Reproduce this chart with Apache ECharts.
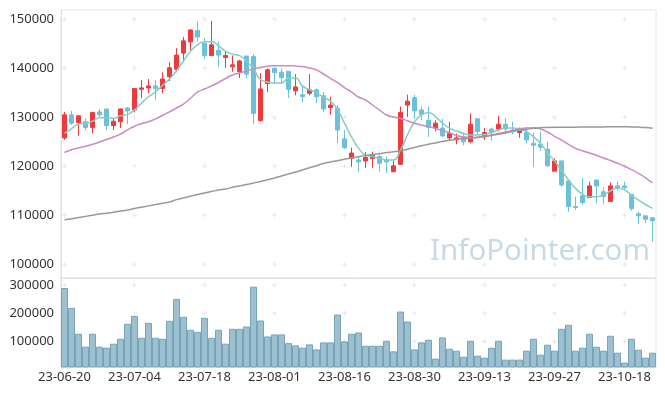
<!DOCTYPE html>
<html><head><meta charset="utf-8">
<script src="https://cdn.jsdelivr.net/npm/echarts@6/dist/echarts.min.js"></script>
<style>html,body{margin:0;padding:0;background:#fff}#c{width:665px;height:396px}</style>
</head><body><div id="c"></div>
<script>
const dates = ['23-06-20','23-06-21','23-06-22','23-06-23','23-06-26','23-06-27','23-06-28','23-06-29','23-06-30','23-07-03',
'23-07-04','23-07-05','23-07-06','23-07-07','23-07-10','23-07-11','23-07-12','23-07-13','23-07-14','23-07-17',
'23-07-18','23-07-19','23-07-20','23-07-21','23-07-24','23-07-25','23-07-26','23-07-27','23-07-28','23-07-31',
'23-08-01','23-08-02','23-08-03','23-08-04','23-08-07','23-08-08','23-08-09','23-08-10','23-08-11','23-08-14',
'23-08-16','23-08-17','23-08-18','23-08-21','23-08-22','23-08-23','23-08-24','23-08-25','23-08-28','23-08-29',
'23-08-30','23-08-31','23-09-01','23-09-04','23-09-05','23-09-06','23-09-07','23-09-08','23-09-11','23-09-12',
'23-09-13','23-09-14','23-09-15','23-09-18','23-09-19','23-09-20','23-09-21','23-09-22','23-09-25','23-09-26',
'23-09-27','23-10-04','23-10-05','23-10-06','23-10-10','23-10-11','23-10-12','23-10-13','23-10-16','23-10-17',
'23-10-18','23-10-19','23-10-20','23-10-23','23-10-24'];

const openP = [125800,130500,128900,129100,127900,131100,131700,128300,129100,131900,
131500,135700,136000,136400,135900,138300,139800,143100,145400,147700,
145100,142600,143700,142200,140300,139300,142500,142400,129300,136900,
140000,139200,139400,135400,134600,134900,135600,134400,132000,131800,
125600,121600,121300,121100,121600,122000,121300,118900,120400,132500,
134000,131500,129400,127800,127800,125800,125400,126000,125000,129700,
126000,127600,127600,128600,127400,126900,126900,124700,124500,123500,
119000,121100,117000,111800,114000,113600,117200,114800,112800,116000,
116000,114300,110300,109900,109500];

const closeP = [130500,128800,130300,127900,131000,130500,128300,129200,131700,131300,
135900,136000,136400,135900,137800,140100,142700,145600,147800,146400,
142600,144800,142700,142600,140700,141500,138800,130800,135800,139700,
139100,138100,135700,136200,134200,135600,134200,131700,132500,127400,
123800,122700,120900,121800,122200,120600,120900,120100,131000,133300,
131300,130600,127900,128800,126200,126700,125800,125000,128600,127100,
126900,126900,128600,127600,127200,127400,125400,124300,123900,120100,
121100,116200,111800,111600,112600,116000,116000,113800,116000,115500,
115600,111400,109900,109200,108900];

const lowP = [125400,128400,126200,127400,126700,130100,127400,127400,127800,128600,
131000,133900,134900,133500,134900,137400,139200,141300,143700,145400,
141900,142500,140300,140100,139300,138000,138000,128600,129100,135200,
136900,136900,133900,134500,133100,134500,132900,131100,130500,124700,
123500,119900,118900,119700,119700,118900,118600,118800,120300,130100,
129700,129400,126000,127100,126000,125200,124500,124300,124700,126400,
125400,125200,127100,126700,126500,125800,124700,119900,123100,119900,
119000,115800,110700,111100,112100,113600,112400,112300,112800,115000,
115200,110900,108200,108400,104600];

const highP = [131100,131300,130500,129800,131100,131700,131700,129800,131800,132100,
136000,137600,137800,137600,139200,141200,144100,146400,148000,149500,
146200,149700,145400,143500,142600,141700,142500,142900,139000,140000,
140100,140000,139400,138800,136200,138800,135900,135200,134200,132500,
127400,123800,122000,122900,123000,122400,122000,121100,132200,134600,
134600,132200,132200,129400,129700,129100,126700,126900,130800,129700,
127800,127900,130300,129800,129100,127900,127800,126900,127100,125000,
121600,121100,117400,113800,117600,116900,117200,115700,116700,116900,
116900,114300,110700,109900,109500];

const ma5 = [126700,127700,128600,128800,129200,129900,129900,129800,130300,130600,
131500,132900,134200,135200,136500,137800,139500,141500,143500,144800,
145400,145400,144600,143500,142900,142600,141500,139900,137700,137200,
137000,137000,138000,138000,136400,135600,135000,134100,133300,131600,
128800,126000,123700,122300,122000,121600,121300,121300,123300,126400,
129100,130500,131000,130100,128800,127800,127200,126700,126400,126400,
126500,126900,127400,127800,127800,127600,127100,126000,124700,122700,
121100,119200,117200,115500,114300,113800,113800,114100,115000,115500,
115200,114100,113100,112200,111400];

const ma20 = [122820,123390,123740,124080,124490,124960,125470,125980,126590,127450,
128180,128690,129100,129690,130370,131120,131900,132710,133880,135120,
135780,136390,137100,137920,138630,139040,139450,139860,140160,140430,
140510,140530,140530,140470,140350,140060,139650,138840,137960,137100,
136080,135160,134140,133530,132510,131490,130470,130060,129760,129290,
128780,128390,128120,127720,127270,126840,126290,125980,125880,125920,
126120,126390,126690,127000,127310,127650,127820,127860,127610,127000,
126120,125370,124490,123670,123180,122720,122250,121690,121180,120610,
120000,119310,118570,117650,116590];

const ma60 = [109080,109290,109530,109780,110020,110250,110430,110630,110860,111100,
111390,111650,111920,112180,112450,112720,113200,113530,113880,114230,
114550,114860,115160,115350,115720,115980,116270,116590,116880,117250,
117610,118020,118430,118840,119250,119690,120120,120550,120880,121140,
121430,121690,121960,122210,122390,122590,122800,122960,123180,123470,
123840,124180,124490,124760,125060,125310,125530,125670,125780,125900,
126120,126290,126550,126800,127080,127330,127530,127760,127860,127940,
127960,127960,127980,127990,128000,128010,128020,128040,128060,128080,
128080,128040,128000,127920,127780];

const volume = [289300,218800,127100,81200,127100,81200,77700,91800,109400,162300,
190500,113000,165900,113000,109400,172900,250500,187000,141200,134100,
183500,113000,141200,91800,144700,144700,152900,294000,174100,117600,
124700,124700,94100,85900,77700,89400,71800,96500,96500,195200,
100000,127100,131700,84700,84700,84700,102400,64700,205800,170600,
71800,96500,105900,38900,114100,74100,67100,45900,102400,49500,
42400,77700,102400,35400,35400,35400,67100,109400,53000,88300,
67100,144700,158800,67100,77700,127100,81200,67100,120000,60000,
24800,109400,70600,42400,60000];

const priceTicks = [100000,110000,120000,130000,140000,150000];
const volumeTicks = [100000,200000,300000];

const candleData = dates.map((d, i) => [openP[i], closeP[i], lowP[i], highP[i]]);
const markCats = dates.filter((d, i) => i % 10 === 0);
const pricePlus = [];
markCats.forEach(c => priceTicks.forEach(v => pricePlus.push([c, v])));
const volPlus = [];
markCats.forEach(c => volumeTicks.forEach(v => volPlus.push([c, v])));

const RED = '#ef3a3d', BLUE = '#6bc1da';
const plusPath = 'path://M4,0H6V4H10V6H6V10H4V6H0V4H4Z';
const labelStyle = { color: '#333', fontSize: 13, fontFamily: 'Noto Sans' };

const chart = echarts.init(document.getElementById('c'), null, { renderer: 'canvas' });
chart.setOption({
  animation: false,
  backgroundColor: '#fff',
  grid: [
    { left: 61, right: 9, top: 10, height: 268, show: true, borderColor: '#e6e6e6', borderWidth: 1 },
    { left: 61, right: 9, top: 278, height: 89, show: true, borderColor: '#e6e6e6', borderWidth: 1 }
  ],
  xAxis: [
    { type: 'category', gridIndex: 0, data: dates, boundaryGap: true,
      axisLine: { show: true, lineStyle: { color: '#e0e0e0' } }, axisTick: { show: false },
      axisLabel: { show: false }, splitLine: { show: false } },
    { type: 'category', gridIndex: 1, data: dates, boundaryGap: true,
      axisLine: { show: false }, axisTick: { show: false },
      axisLabel: Object.assign({ interval: 9, margin: 4 }, labelStyle), splitLine: { show: false } }
  ],
  yAxis: [
    { type: 'value', gridIndex: 0, min: 97200, max: 151900, splitNumber: 5, scale: true,
      axisLine: { show: true, lineStyle: { color: '#e0e0e0' } }, axisTick: { show: false },
      splitLine: { show: false },
      axisLabel: Object.assign({ showMinLabel: false, showMaxLabel: false, margin: 7, formatter: v => String(v) }, labelStyle) },
    { type: 'value', gridIndex: 1, min: 9300, max: 324700, splitNumber: 3,
      axisLine: { show: true, lineStyle: { color: '#e0e0e0' } }, axisTick: { show: false },
      splitLine: { show: false },
      axisLabel: Object.assign({ showMinLabel: false, showMaxLabel: false, margin: 7, formatter: v => String(v) }, labelStyle) }
  ],
  graphic: [
    { type: 'text', left: 430, top: 237, z: 0, silent: true,
      style: { text: 'InfoPointer.com', font: '29.5px "Noto Sans"', fill: '#c8dae5' } }
  ],
  series: [
    { type: 'scatter', xAxisIndex: 0, yAxisIndex: 0, data: pricePlus, symbol: plusPath, symbolSize: 5,
      itemStyle: { color: '#e2e2e2' }, silent: true, z: 1 },
    { type: 'scatter', xAxisIndex: 1, yAxisIndex: 1, data: volPlus, symbol: plusPath, symbolSize: 5,
      itemStyle: { color: '#e2e2e2' }, silent: true, z: 1 },
    { type: 'candlestick', xAxisIndex: 0, yAxisIndex: 0, data: candleData, barWidth: 5, z: 3,
      itemStyle: { color: RED, color0: BLUE, borderColor: RED, borderColor0: BLUE, borderWidth: 1 } },
    { type: 'line', xAxisIndex: 0, yAxisIndex: 0, data: ma5, smooth: true, symbol: 'none', z: 4,
      lineStyle: { color: '#86cdc3', width: 1.5 } },
    { type: 'line', xAxisIndex: 0, yAxisIndex: 0, data: ma20, smooth: true, symbol: 'none', z: 4,
      lineStyle: { color: '#c98bc6', width: 1.5 } },
    { type: 'line', xAxisIndex: 0, yAxisIndex: 0, data: ma60, smooth: true, symbol: 'none', z: 4,
      lineStyle: { color: '#999999', width: 1.5 } },
    { type: 'bar', xAxisIndex: 1, yAxisIndex: 1, data: volume, barCategoryGap: '0%', z: 3,
      itemStyle: { color: '#9dc0d0', borderColor: '#77a4b9', borderWidth: 1 } }
  ]
});
</script>
</body></html>
